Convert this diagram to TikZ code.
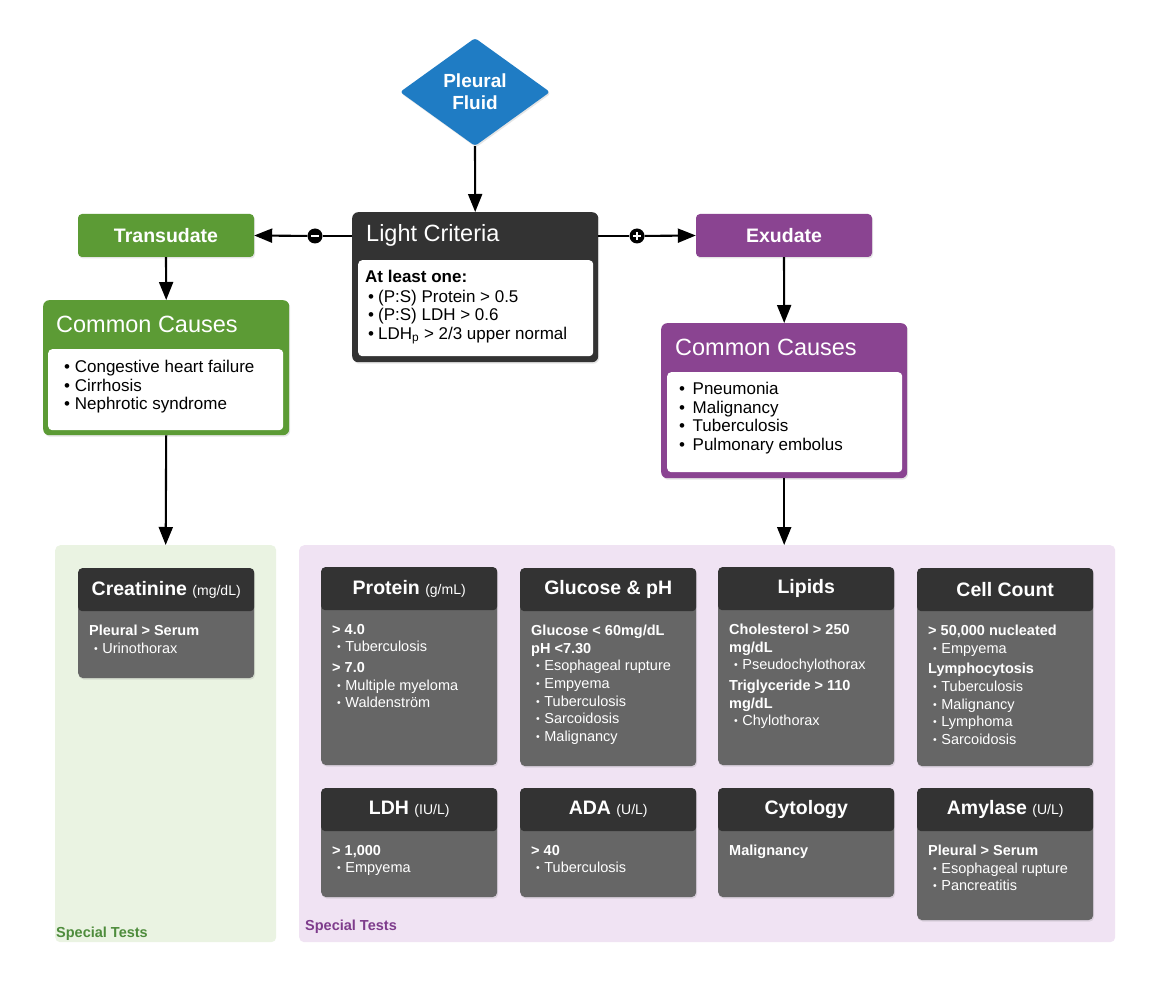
\documentclass[tikz,border=0pt]{standalone}
\usepackage{fontspec}
\setmainfont{Liberation Sans}
\usepackage{xcolor}
\usepackage{tikz}
\usetikzlibrary{positioning,shapes.geometric,arrows.meta,shadows}

\definecolor{fluidblue}{HTML}{1F7CC4}
\definecolor{transgreen}{HTML}{5C9B35}
\definecolor{exupurple}{HTML}{8A4491}
\definecolor{headdark}{HTML}{333333}
\definecolor{cardgray}{HTML}{666666}
\definecolor{greenpanel}{HTML}{EAF3E2}
\definecolor{purplepanel}{HTML}{F0E3F3}
\definecolor{greenlabel}{HTML}{4E8C3C}
\definecolor{purplelabel}{HTML}{7E3C8C}

\newcommand{\sbul}{\hspace*{5pt}{\fontsize{10.5}{10}\selectfont\raisebox{1pt}{•}}\hspace{4.5pt}}
\newcommand{\lbul}{\hspace*{3pt}•\hspace{4pt}}
\newcommand{\cunit}[1]{{\mdseries\fontsize{14}{16}\selectfont #1}}

\begin{document}
\begin{tikzpicture}[
  x=1pt, y=-1pt,
  kind/.style={rounded corners=4pt, minimum width=176pt, minimum height=43pt, inner sep=0,
    text=white, font=\bfseries\fontsize{19.5}{22}\selectfont},
  bigbox/.style={anchor=north west, rounded corners=6pt, minimum width=246pt, inner sep=0,
    drop shadow={opacity=0.2, shadow xshift=1pt, shadow yshift=-1.5pt}},
  inbox/.style={anchor=north west, fill=white, rounded corners=4pt, minimum width=235pt, inner sep=0},
  boxtitle/.style={anchor=west, text=white, inner sep=0, font=\fontsize{23.5}{26}\selectfont},
  boxtext/.style={anchor=north west, inner sep=0, align=left, font=\fontsize{17}{18.6}\selectfont},
  panel/.style={anchor=north west, rounded corners=5pt, inner sep=0},
  panellabel/.style={anchor=base west, inner sep=0, font=\bfseries\fontsize{14.5}{16}\selectfont},
  cardbox/.style={anchor=north west, fill=cardgray, rounded corners=5pt, minimum width=176pt, inner sep=0,
    drop shadow={opacity=0.2, shadow xshift=1pt, shadow yshift=-1.5pt}},
  cardhead/.style={anchor=north, fill=headdark, rounded corners=4pt, minimum width=176pt,
    minimum height=43pt, inner sep=0, text=white, font=\bfseries\fontsize{19.5}{22}\selectfont},
  cardtext/.style={inner sep=0, align=left, text=white, font=\fontsize{14.5}{17.6}\selectfont},
  sign/.style={circle, fill=black, minimum size=15pt, inner sep=0},
  arr/.style={-{Triangle[length=18pt,width=14pt]}, line width=2.1pt},
  link/.style={line width=2.1pt},
]
  \fill[white] (0,0) rectangle (1170,981);
  \useasboundingbox (0,0) rectangle (1170,981);

  % top of the tree
  \node[diamond, aspect=1.4, fill=fluidblue, minimum width=150pt, minimum height=108pt, inner sep=0,
    rounded corners=3pt, text=white, align=center, font=\bfseries\fontsize{19}{22}\selectfont,
    drop shadow={opacity=0.2, shadow xshift=1pt, shadow yshift=-1.5pt}]
    (fluid) at (475,92) {Pleural\\Fluid};

  \node[bigbox, fill=headdark, minimum height=150pt] (lc) at (352,212) {};
  \node[boxtitle] (lc-title) at (366,235) {Light Criteria};
  \node[inbox, minimum height=96pt] (lc-in) at (358,260) {};
  \node[boxtext, below right=10pt and 7pt of lc-in.north west] (lc-txt)
    {\textbf{At least one:}\\[1pt]
     \lbul(P:S) Protein > 0.5\\
     \lbul(P:S) LDH > 0.6\\
     \lbul LDH\textsubscript{p} > 2/3 upper normal};

  \node[kind, fill=transgreen, drop shadow={opacity=0.2, shadow xshift=1pt, shadow yshift=-1.5pt}]
    (trans) at (166,235.5) {Transudate};
  \node[kind, fill=exupurple, drop shadow={opacity=0.2, shadow xshift=1pt, shadow yshift=-1.5pt}]
    (exu) at (784,235.5) {Exudate};

  \node[sign, path picture={\draw[white, line width=2.6pt]
      ([xshift=-4pt]path picture bounding box.center) -- ([xshift=4pt]path picture bounding box.center);}]
    (neg) at (315,236) {};
  \node[sign, path picture={\draw[white, line width=2.4pt]
      ([xshift=-4pt]path picture bounding box.center) -- ([xshift=4pt]path picture bounding box.center)
      ([yshift=-4pt]path picture bounding box.center) -- ([yshift=4pt]path picture bounding box.center);}]
    (pos) at (637,236) {};

  % common causes
  \node[bigbox, fill=transgreen, minimum height=135pt] (gcc) at (43,300) {};
  \node[boxtitle] (gcc-title) at (56,324) {Common Causes};
  \node[inbox, minimum height=81pt] (gcc-in) at (48,349) {};
  \node[boxtext, below right=11pt and 16pt of gcc-in.north west] (gcc-txt)
    {•\ Congestive heart failure\\ •\ Cirrhosis\\ •\ Nephrotic syndrome};

  \node[bigbox, fill=exupurple, minimum height=155pt] (pcc) at (661,323) {};
  \node[boxtitle] (pcc-title) at (675,347) {Common Causes};
  \node[inbox, minimum height=100pt] (pcc-in) at (667,372) {};
  \node[boxtext, below right=10pt and 12pt of pcc-in.north west] (pcc-txt)
    {•\ \,Pneumonia\\ •\ \,Malignancy\\ •\ \,Tuberculosis\\ •\ \,Pulmonary embolus};

  % special tests panels
  \node[panel, fill=greenpanel, minimum width=221pt, minimum height=397pt] (gpanel) at (55,545) {};
  \node[panellabel, text=greenlabel] (gpanel-lbl) at (56,937) {Special Tests};
  \node[panel, fill=purplepanel, minimum width=816pt, minimum height=397pt] (ppanel) at (299,545) {};
  \node[panellabel, text=purplelabel] (ppanel-lbl) at (305,930) {Special Tests};

  % connectors
  \draw[arr] (fluid.south) -- (lc.north);
  \draw[link] (lc.west |- neg) -- (neg);
  \draw[arr] (neg) -- (trans.east);
  \draw[link] (lc.east |- pos) -- (pos);
  \draw[arr] (pos) -- (exu.west);
  \draw[arr] (trans.south) -- (gcc.north);
  \draw[arr] (exu.south) -- (pcc.north);
  \draw[arr] (gcc.south) -- (gpanel.north);
  \draw[arr] (pcc.south) -- (pcc.south |- ppanel.north);

  % transudate test
  \node[cardbox, minimum height=110pt] (creat) at (78,568) {};
  \node[cardhead] (creat-head) at (creat.north) {Creatinine \cunit{(mg/dL)}};
  \node[cardtext, below right=13.5pt and 11pt of creat-head.south west] (creat-txt)
    {\textbf{Pleural > Serum}\\ \sbul Urinothorax};

  % exudate tests, first row
  \node[cardbox, minimum height=198pt] (protein) at (321,567) {};
  \node[cardhead] (protein-head) at (protein.north) {Protein \cunit{(g/mL)}};
  \node[cardtext, below right=13.5pt and 11pt of protein-head.south west] (protein-txt)
    {\textbf{> 4.0}\\ \sbul Tuberculosis\\[3pt]
     \textbf{> 7.0}\\ \sbul Multiple myeloma\\ \sbul Waldenström};

  \node[cardbox, minimum height=198pt] (gluc) at (520,568) {};
  \node[cardhead] (gluc-head) at (gluc.north) {Glucose \& pH};
  \node[cardtext, below right=13.5pt and 11pt of gluc-head.south west] (gluc-txt)
    {\textbf{Glucose < 60mg/dL}\\ \textbf{pH <7.30}\\ \sbul Esophageal rupture\\
     \sbul Empyema\\ \sbul Tuberculosis\\ \sbul Sarcoidosis\\ \sbul Malignancy};

  \node[cardbox, minimum height=198pt] (lipid) at (718,567) {};
  \node[cardhead] (lipid-head) at (lipid.north) {Lipids};
  \node[cardtext, below right=13.5pt and 11pt of lipid-head.south west] (lipid-txt)
    {\textbf{Cholesterol > 250}\\ \textbf{mg/dL}\\ \sbul Pseudochylothorax\\[3pt]
     \textbf{Triglyceride > 110}\\ \textbf{mg/dL}\\ \sbul Chylothorax};

  \node[cardbox, minimum height=198pt] (cells) at (917,568) {};
  \node[cardhead] (cells-head) at (cells.north) {Cell Count};
  \node[cardtext, below right=13.5pt and 11pt of cells-head.south west] (cells-txt)
    {\textbf{> 50,000 nucleated}\\ \sbul Empyema\\[3pt]
     \textbf{Lymphocytosis}\\ \sbul Tuberculosis\\ \sbul Malignancy\\ \sbul Lymphoma\\ \sbul Sarcoidosis};

  % exudate tests, second row
  \node[cardbox, minimum height=109pt] (ldh) at (321,788) {};
  \node[cardhead] (ldh-head) at (ldh.north) {LDH \cunit{(IU/L)}};
  \node[cardtext, below right=13.5pt and 11pt of ldh-head.south west] (ldh-txt)
    {\textbf{> 1,000}\\ \sbul Empyema};

  \node[cardbox, minimum height=109pt] (ada) at (520,788) {};
  \node[cardhead] (ada-head) at (ada.north) {ADA \cunit{(U/L)}};
  \node[cardtext, below right=13.5pt and 11pt of ada-head.south west] (ada-txt)
    {\textbf{> 40}\\ \sbul Tuberculosis};

  \node[cardbox, minimum height=109pt] (cyto) at (718,788) {};
  \node[cardhead] (cyto-head) at (cyto.north) {Cytology};
  \node[cardtext, below right=13.5pt and 11pt of cyto-head.south west] (cyto-txt)
    {\textbf{Malignancy}};

  \node[cardbox, minimum height=132pt] (amyl) at (917,788) {};
  \node[cardhead] (amyl-head) at (amyl.north) {Amylase \cunit{(U/L)}};
  \node[cardtext, below right=13.5pt and 11pt of amyl-head.south west] (amyl-txt)
    {\textbf{Pleural > Serum}\\ \sbul Esophageal rupture\\ \sbul Pancreatitis};
\end{tikzpicture}
\end{document}
